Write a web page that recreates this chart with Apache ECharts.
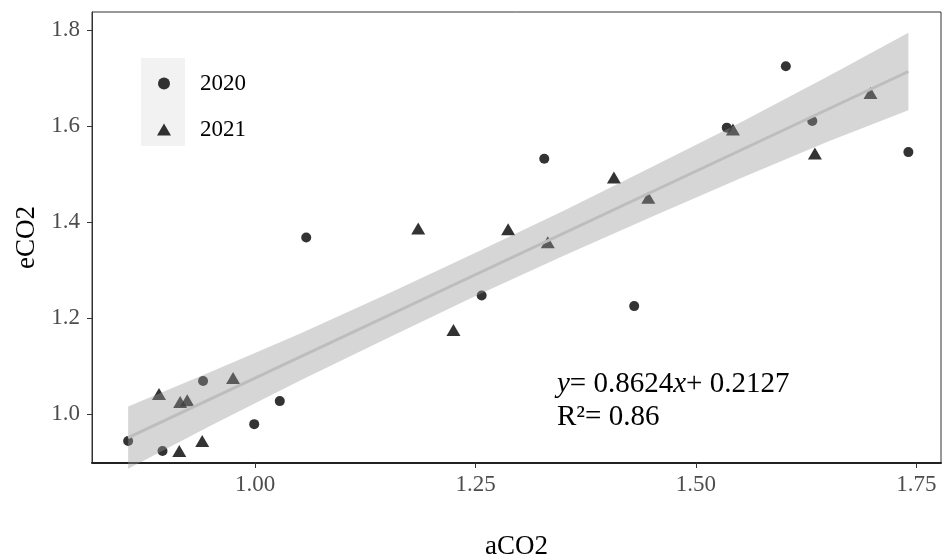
<!DOCTYPE html>
<html>
<head>
<meta charset="utf-8">
<script src="https://cdn.jsdelivr.net/npm/echarts@6/dist/echarts.min.js"></script>
<style>html,body{margin:0;padding:0;background:#fff}#c{width:946px;height:560px}</style>
</head>
<body>
<div id="c"></div>
<script>
const xTicks = [1.0, 1.25, 1.5, 1.75];
const yTicks = [1.0, 1.2, 1.4, 1.6, 1.8];
const s2020x = [0.856, 0.895, 0.925, 0.941, 0.999, 1.028, 1.058, 1.257, 1.328, 1.430, 1.535, 1.602, 1.632, 1.741];
const s2020y = [0.944, 0.923, 0.884, 1.069, 0.979, 1.027, 1.368, 1.247, 1.532, 1.225, 1.597, 1.725, 1.611, 1.546];
const s2021x = [0.891, 0.915, 0.923, 0.975, 0.914, 0.940, 1.185, 1.225, 1.287, 1.332, 1.407, 1.446, 1.542, 1.635, 1.698];
const s2021y = [1.042, 1.025, 1.029, 1.075, 0.923, 0.944, 1.387, 1.175, 1.385, 1.358, 1.493, 1.451, 1.593, 1.543, 1.669];
const fitX = [0.856, 1.741];
const fitY = [0.951, 1.714];
const bandX = [0.856, 0.95, 1.05, 1.15, 1.25, 1.35, 1.45, 1.55, 1.65, 1.741];
const bandLo = [0.886, 0.976, 1.069, 1.158, 1.246, 1.330, 1.411, 1.491, 1.568, 1.633];
const bandHi = [1.016, 1.088, 1.167, 1.250, 1.336, 1.424, 1.515, 1.607, 1.704, 1.795];

const zip = (a, b) => a.map((v, i) => [v, b[i]]);
const bandData = bandX.map((x, i) => [x, bandLo[i], bandHi[i]]);
const FONT = '"Liberation Serif", "DejaVu Serif", serif';

const chart = echarts.init(document.getElementById('c'));
chart.setOption({
  animation: false,
  backgroundColor: '#fff',
  grid: { left: 92, right: 5, top: 12, bottom: 97, show: true, borderColor: '#333', borderWidth: 1, backgroundColor: 'transparent', containLabel: false, outerBoundsMode: 'none' },
  xAxis: {
    type: 'value', min: 0.815, max: 1.778,
    name: 'aCO2', nameLocation: 'middle', nameGap: 70,
    nameTextStyle: { fontFamily: FONT, fontSize: 27, color: '#000' },
    axisLine: { show: true, lineStyle: { color: '#222', width: 2 } },
    axisTick: { show: true, length: 5, lineStyle: { color: '#333' }, customValues: xTicks },
    axisLabel: { fontFamily: FONT, fontSize: 23, color: '#4d4d4d', margin: 10, customValues: xTicks, formatter: v => v.toFixed(2) },
    splitLine: { show: false }
  },
  yAxis: {
    type: 'value', min: 0.898, max: 1.838,
    name: 'eCO2', nameLocation: 'middle', nameGap: 48, nameRotate: 90,
    nameTextStyle: { fontFamily: FONT, fontSize: 27, color: '#000' },
    axisLine: { show: true, lineStyle: { color: '#333', width: 1 } },
    axisTick: { show: true, length: 5, lineStyle: { color: '#333' }, customValues: yTicks },
    axisLabel: { fontFamily: FONT, fontSize: 23, color: '#4d4d4d', margin: 12, customValues: yTicks, formatter: v => v.toFixed(1) },
    splitLine: { show: false }
  },
  legend: {
    orient: 'vertical', left: 152, top: 67, itemGap: 23, itemWidth: 14, itemHeight: 12,
    textStyle: { fontFamily: FONT, fontSize: 23, color: '#000', padding: [0, 0, 0, 24] },
    data: [{ name: '2020', icon: 'circle' }, { name: '2021', icon: 'triangle' }]
  },
  graphic: [
    { type: 'rect', left: 141, top: 58, z: -1, shape: { width: 44, height: 88 }, style: { fill: '#f2f2f2' }, silent: true },
    {
      type: 'text', left: 557, top: 368, z: 100,
      style: {
        text: '{i|y}= 0.8624{i|x}+ 0.2127\nR²= 0.86',
        font: '29px ' + FONT, fill: '#000', lineHeight: 33,
        rich: { i: { fontStyle: 'italic', fontFamily: FONT, fontSize: 29, lineHeight: 33 } }
      }
    }
  ],
  series: [
    {
      name: '2020', type: 'scatter', symbol: 'circle', symbolSize: 10,
      itemStyle: { color: '#000' }, data: zip(s2020x, s2020y), z: 2
    },
    {
      name: '2021', type: 'scatter', symbol: 'triangle', symbolSize: [14, 12],
      itemStyle: { color: '#000' }, data: zip(s2021x, s2021y), z: 2
    },
    {
      type: 'custom', z: 3, silent: true,
      data: bandData,
      renderItem: function (params, api) {
        if (params.dataIndex !== 0) return null;
        const top = bandData.map(d => api.coord([d[0], d[2]]));
        const bot = bandData.slice().reverse().map(d => api.coord([d[0], d[1]]));
        return { type: 'polygon', shape: { points: top.concat(bot) }, style: { fill: 'rgba(153,153,153,0.4)' } };
      }
    },
    {
      type: 'line', data: zip(fitX, fitY), symbol: 'none', z: 4, silent: true,
      lineStyle: { color: '#bdbdbd', width: 3 }
    }
  ]
});
</script>
</body>
</html>
